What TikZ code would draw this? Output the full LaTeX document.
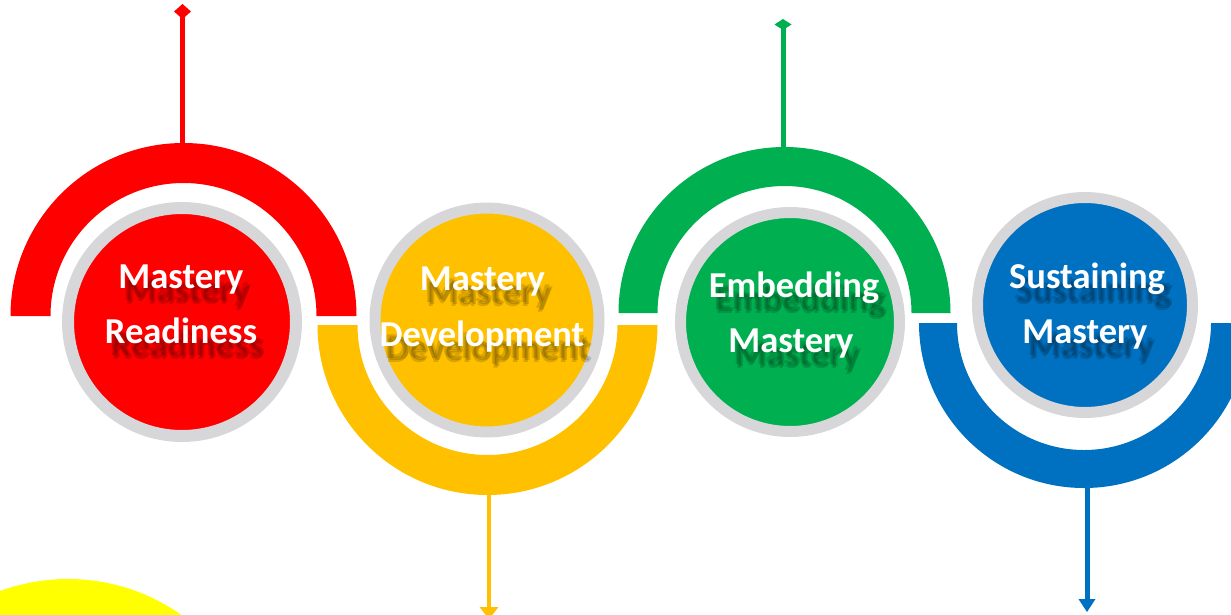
\documentclass[tikz,border=0pt]{standalone}
\usepackage{fontspec}
\setmainfont{Carlito}
\usetikzlibrary{arrows.meta}
\definecolor{cred}{HTML}{FF0000}
\definecolor{cyel}{HTML}{FFC000}
\definecolor{cgrn}{HTML}{00B050}
\definecolor{cblu}{HTML}{0070C0}
\definecolor{cring}{HTML}{D7D7D9}
\definecolor{cbright}{HTML}{FFFF00}
\tikzset{
  disc/.style={circle, draw=cring, inner sep=0pt},
  stemline/.style={line width=5pt},
  labeltxt/.style={anchor=base, text=white, inner sep=0pt,
    font=\fontsize{36.5}{42}\selectfont\bfseries},
  shadowtxt/.style={labeltxt, text=black, text opacity=0.14},
}
% color, cx, cy, Ro, Ri, dir (1 = top half, -1 = bottom half)
\newcommand\mkhalfring[6]{%
  \fill[#1] ({#2-#4},#3) arc[start angle=180, end angle={180-180*#6}, radius=#4pt]
    -- ({#2+#5},#3) arc[start angle={180-180*#6}, end angle=180, radius=#5pt] -- cycle;}
% name, x, y(baseline), text
\newcommand\mklabel[4]{%
  \foreach \dx/\dy [count=\k] in {5/12.5,8/14.5,6.5/16}{%
    \node[shadowtxt] (#1sh\k) at ({#2+\dx},{#3+\dy}) {#4};}
  \node[labeltxt] (#1) at (#2,#3) {#4};}
\begin{document}
\begin{tikzpicture}[x=1pt,y=-1pt]
\useasboundingbox (0,0) rectangle (1231,614);
\clip (0,0) rectangle (1231,614);
% bright yellow blob at bottom left
\fill[cbright] (68,776) circle[radius=197pt];
% half rings
\mkhalfring{cred}{183.5}{316}{173}{133}{1}
\mkhalfring{cyel}{487.5}{325}{170}{130}{-1}
\mkhalfring{cgrn}{784.5}{313}{166}{127}{1}
\mkhalfring{cblu}{1084}{323}{165}{127}{-1}
% stems
\coordinate (r-top) at (182.5,4);   \coordinate (r-arc) at (182.5,145);
\coordinate (y-arc) at (489,493);   \coordinate (y-end) at (489,619);
\coordinate (g-top) at (783,19);    \coordinate (g-arc) at (783,149);
\coordinate (b-arc) at (1087,486);  \coordinate (b-end) at (1087,612);
\draw[stemline, cred, {Diamond[width=17pt,length=15pt,line width=0pt]}-] (r-top) -- (r-arc);
\draw[stemline, cyel, line width=4.5pt, -{Triangle[width=19pt,length=12pt,line width=0pt]}] (y-arc) -- (y-end);
\draw[stemline, cgrn, {Diamond[width=17pt,length=11pt,line width=0pt]}-] (g-top) -- (g-arc);
\draw[stemline, cblu, -{Triangle[width=17pt,length=13pt,line width=0pt]}] (b-arc) -- (b-end);
% discs
\node[disc, fill=cred, minimum size=228pt, line width=12pt] (c1) at (182,322) {};
\node[disc, fill=cyel, minimum size=224pt, line width=11pt] (c2) at (487,320) {};
\node[disc, fill=cgrn, minimum size=219pt, line width=11pt] (c3) at (790,322) {};
\node[disc, fill=cblu, minimum size=215pt, line width=11pt] (c4) at (1085,305) {};
% labels
\mklabel{t1a}{181}{288}{Mastery}
\mklabel{t1b}{181}{343}{Readiness}
\mklabel{t2a}{482.5}{290}{Mastery}
\mklabel{t2b}{482}{346}{Development}
\mklabel{t3a}{794}{297}{Embedding}
\mklabel{t3b}{791}{352}{Mastery}
\mklabel{t4a}{1087}{288}{Sustaining}
\mklabel{t4b}{1085}{343}{Mastery}
\end{tikzpicture}
\end{document}
